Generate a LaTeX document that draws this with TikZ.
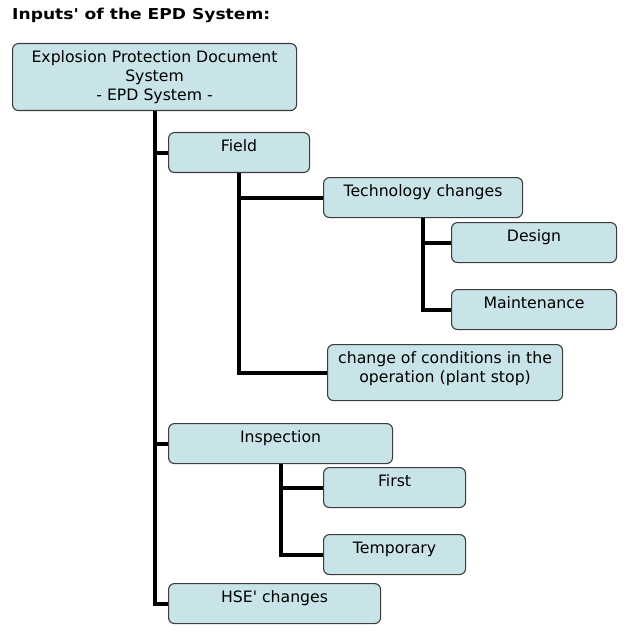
\documentclass[tikz,border=0pt]{standalone}
\usepackage{fontspec}
\setmainfont{DejaVu Sans}[Ligatures=TeXOff]
\definecolor{boxblue}{RGB}{200,228,232}
\definecolor{boxline}{RGB}{60,60,60}
\begin{document}
\begin{tikzpicture}[x=1pt,y=-1pt,
  box/.style={draw=boxline,line width=1.1pt,fill=boxblue,rounded corners=6pt,
    anchor=north west,inner sep=0pt,align=center,
    font=\fontsize{15.7}{19}\selectfont},
  conn/.style={line width=4pt,black,line join=miter}]
\useasboundingbox (0,0) rectangle (626,639);
\node[anchor=base west,inner sep=0pt,xscale=1.14,transform shape,font=\fontsize{15}{18}\selectfont\bfseries] (title) at (12,20) {Inputs' of the EPD System:};
\node[box,minimum width=284pt,minimum height=67pt,text height=57pt,text depth=10pt] (root) at (12,43) {Explosion Protection Document\\System\\- EPD System -};
\node[box,minimum width=141pt,minimum height=40pt,text height=19pt,text depth=21pt] (field) at (168,132) {Field};
\node[box,minimum width=199pt,minimum height=40pt,text height=19pt,text depth=21pt] (tech) at (323,177) {Technology changes};
\node[box,minimum width=165pt,minimum height=40pt,text height=19pt,text depth=21pt] (design) at (451,222) {Design};
\node[box,minimum width=165pt,minimum height=40pt,text height=19pt,text depth=21pt] (maint) at (451,289) {Maintenance};
\node[box,minimum width=235pt,minimum height=56pt,text height=38pt,text depth=18pt] (cond) at (327,344) {change of conditions in the\\operation (plant stop)};
\node[box,minimum width=224pt,minimum height=40pt,text height=19pt,text depth=21pt] (insp) at (168,423) {Inspection};
\node[box,minimum width=142pt,minimum height=40pt,text height=19pt,text depth=21pt] (first) at (323,467) {First};
\node[box,minimum width=142pt,minimum height=40pt,text height=19pt,text depth=21pt] (temp) at (323,534) {Temporary};
\node[box,minimum width=212pt,minimum height=40pt,text height=19pt,text depth=21pt] (hse) at (168,583) {HSE' changes};
\draw[conn] (root.south) |- (hse.west);
\draw[conn] (root.south) |- (field.west);
\draw[conn] (root.south) |- (insp.west);
\draw[conn] (field.south) |- (cond.west);
\draw[conn] (field.south) |- (tech.west);
\draw[conn] (tech.south) |- (maint.west);
\draw[conn] (tech.south) |- (design.west);
\draw[conn] (insp.south) |- (temp.west);
\draw[conn] (insp.south) |- (first.west);
\end{tikzpicture}
\end{document}
